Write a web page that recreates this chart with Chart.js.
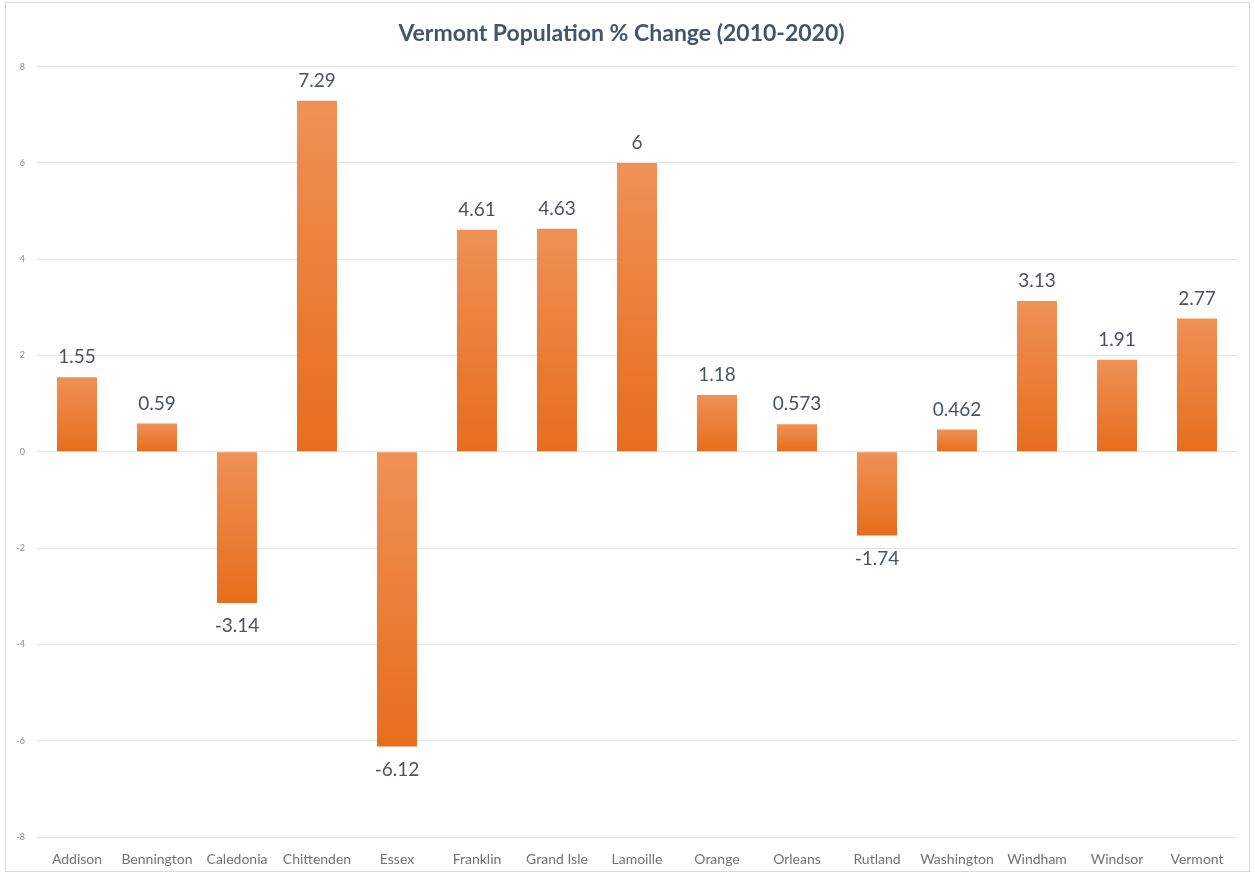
<!DOCTYPE html>
<html>
<head>
<meta charset="utf-8">
<script src="https://cdn.jsdelivr.net/npm/chart.js@4"></script>
<style>
  body { margin: 0; background: #fff; }
  #box { position: absolute; left: 5px; top: 2px; width: 1245px; height: 870px;
         border: 1px solid #d9d9d9; box-sizing: border-box; }
</style>
</head>
<body>
<div id="box"><canvas id="chart" width="1243" height="868"></canvas></div>
<script>
// counties + state total
const counties = ['Addison', 'Bennington', 'Caledonia', 'Chittenden', 'Essex', 'Franklin', 'Grand Isle',
    'Lamoille', 'Orange', 'Orleans', 'Rutland', 'Washington', 'Windham', 'Windsor', 'Vermont'];
const pctChange = [1.55, 0.59, -3.14, 7.29, -6.12, 4.61, 4.63, 6, 1.18, 0.573, -1.74, 0.462, 3.13, 1.91, 2.77];
const yTicks = [-8, -6, -4, -2, 0, 2, 4, 6, 8];

const FONT = 'Lato, "Open Sans", sans-serif';

// vertical gradient per bar, lighter at the top
function barColor(c) {
    const chart = c.chart;
    const y = chart.scales.y;
    if (!chart.chartArea || !y) return '#ec7f38';
    const a = y.getPixelForValue(pctChange[c.dataIndex]);
    const b = y.getPixelForValue(0);
    const top = Math.min(a, b), bottom = Math.max(a, b);
    const g = chart.ctx.createLinearGradient(0, top, 0, bottom + 0.01);
    g.addColorStop(0, '#ef9156');
    g.addColorStop(1, '#e76d1c');
    return g;
}

// value labels above (positive) or below (negative) bars
const valueLabels = {
    id: 'valueLabels',
    afterDatasetsDraw(chart) {
        const ctx = chart.ctx;
        const meta = chart.getDatasetMeta(0);
        ctx.save();
        ctx.font = '19px ' + FONT;
        ctx.fillStyle = '#4b5262';
        ctx.textAlign = 'center';
        ctx.textBaseline = 'middle';
        meta.data.forEach((bar, i) => {
            const v = pctChange[i];
            const y = v >= 0 ? bar.y - 20 : bar.y + 23;
            ctx.fillText(String(v), bar.x, y);
        });
        ctx.restore();
    }
};

new Chart(document.getElementById('chart'), {
    type: 'bar',
    data: {
        labels: counties,
        datasets: [{
            data: pctChange,
            backgroundColor: barColor,
            borderWidth: 0,
            barPercentage: 0.5,
            categoryPercentage: 1
        }]
    },
    options: {
        responsive: false,
        animation: false,
        layout: { padding: { left: 0, right: 12, top: 0, bottom: 0 } },
        plugins: {
            legend: { display: false },
            tooltip: { enabled: false },
            title: {
                display: true,
                text: 'Vermont Population % Change (2010-2020)',
                color: '#44546a',
                font: { family: FONT, size: 23, weight: 'bold' },
                padding: { top: 17, bottom: 19 }
            }
        },
        scales: {
            x: {
                grid: { display: false },
                border: { display: false },
                ticks: { color: '#727272', font: { family: FONT, size: 14 }, padding: 6, maxRotation: 0, autoSkip: false },
                afterFit: s => { s.height = 34; }
            },
            y: {
                min: -8, max: 8,
                afterBuildTicks: s => { s.ticks = yTicks.map(v => ({ value: v })); },
                grid: { color: '#e3e3e3', drawTicks: false },
                border: { display: false },
                ticks: { color: '#8a8a8a', font: { family: FONT, size: 9 }, padding: 12 },
                afterFit: s => { s.width = 31; }
            }
        }
    },
    plugins: [valueLabels]
});
</script>
</body>
</html>
